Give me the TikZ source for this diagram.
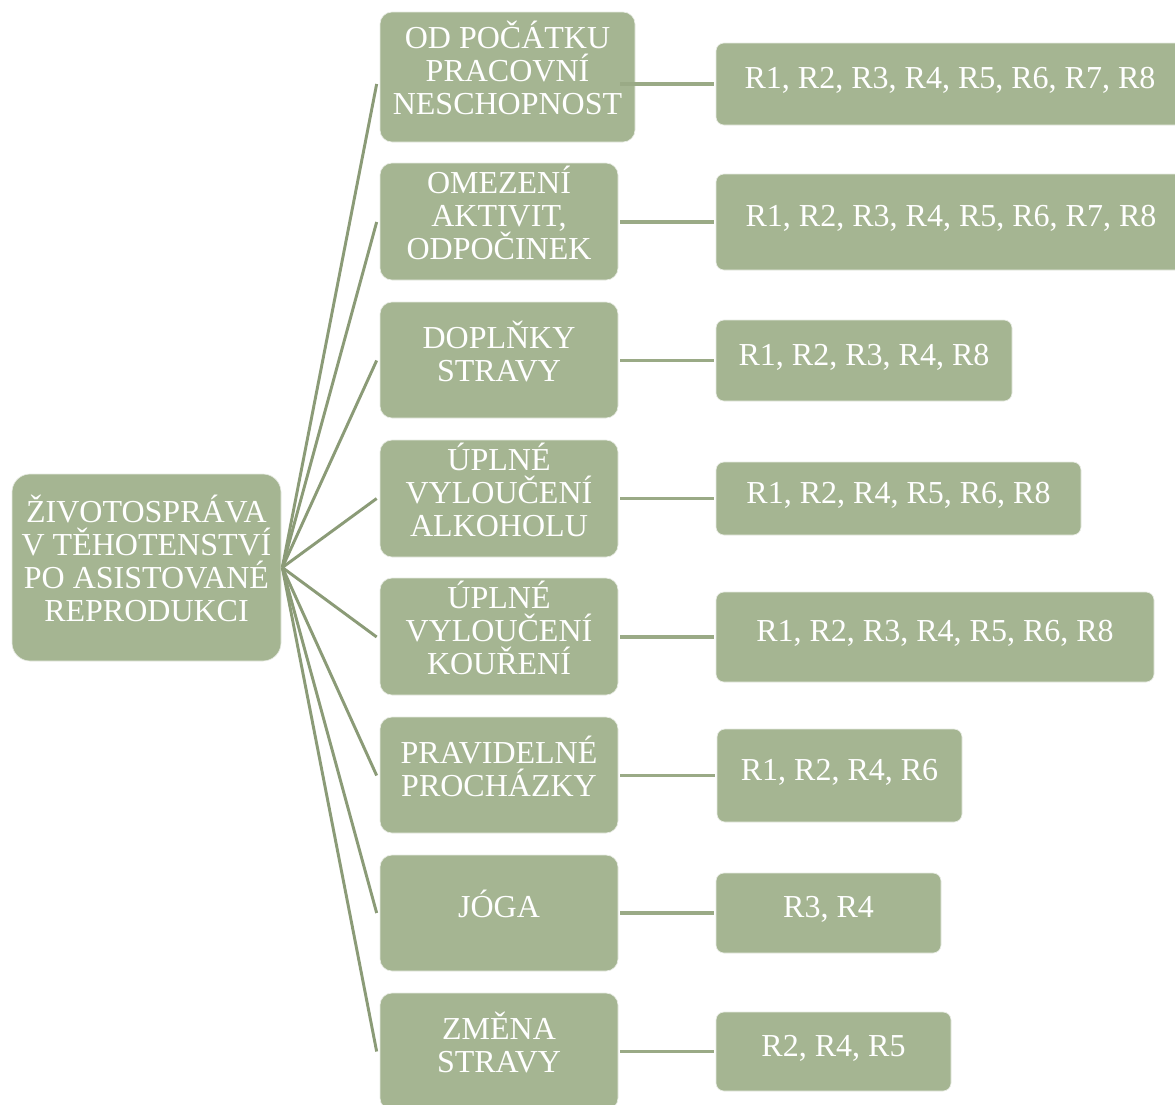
\documentclass[tikz,border=0pt]{standalone}
\usepackage{fontspec}
\setmainfont{Liberation Serif}
\usetikzlibrary{calc}
\definecolor{boxfill}{HTML}{A5B592}
\definecolor{spoke}{HTML}{8B9B77}
\definecolor{link}{HTML}{9AAA86}
\tikzset{
  box/.style n args={3}{draw=white!75!boxfill, line width=0.5pt, fill=boxfill,
    inner sep=0pt,
    minimum width=#1*0.75pt, minimum height=#2*0.75pt, rounded corners=#3*0.75pt},
  % caption text set inside a box, raised a little for optical centring
  txt/.style={text=white, align=center, inner sep=0pt,
    font=\fontsize{24}{24.75}\selectfont, yshift=#1*0.75pt},
  txt/.default=9,
  spokeline/.style={draw=spoke, line width=2.2pt},
  linkline/.style={draw=link, line width=2.4pt},
}
\begin{document}
\begin{tikzpicture}[x=0.75pt,y=-0.75pt]
\clip (0,0) rectangle (1175,1104);
\fill[white] (0,0) rectangle (1175,1104);

% root
\node[box={269}{187}{18}, label={[txt]center:{ŽIVOTOSPRÁVA\\V TĚHOTENSTVÍ\\PO ASISTOVANÉ\\REPRODUKCI}}] (root) at (146.5,567.5) {};

% second level
\node[box={255}{130}{12}, label={[txt]center:{OD POČÁTKU\\PRACOVNÍ\\NESCHOPNOST}}] (m1) at (507.5,77) {};
\node[box={238}{117}{12}, label={[txt]center:{OMEZENÍ\\AKTIVIT,\\ODPOČINEK}}] (m2) at (499,221.5) {};
\node[box={238}{116}{12}, label={[txt]center:{DOPLŇKY\\STRAVY}}] (m3) at (499,360) {};
\node[box={238}{117}{12}, label={[txt]center:{ÚPLNÉ\\VYLOUČENÍ\\ALKOHOLU}}] (m4) at (499,498.5) {};
\node[box={238}{117}{12}, label={[txt]center:{ÚPLNÉ\\VYLOUČENÍ\\KOUŘENÍ}}] (m5) at (499,636.5) {};
\node[box={238}{116}{12}, label={[txt]center:{PRAVIDELNÉ\\PROCHÁZKY}}] (m6) at (499,775) {};
\node[box={238}{116}{12}, label={[txt]center:{JÓGA}}] (m7) at (499,913) {};
\node[box={238}{117}{12}, label={[txt]center:{ZMĚNA\\STRAVY}}] (m8) at (499,1051.5) {};

% third level
\node[box={468}{82}{8}, label={[txt=3.5]center:{R1, R2, R3, R4, R5, R6, R7, R8}}] (r1) at (950,84) {};
\node[box={470}{96}{8}, label={[txt=3.5]center:{R1, R2, R3, R4, R5, R6, R7, R8}}] (r2) at (951,222) {};
\node[box={296}{81}{8}, label={[txt=3.5]center:{R1, R2, R3, R4, R8}}] (r3) at (864,360.5) {};
\node[box={365}{73}{8}, label={[txt=3.5]center:{R1, R2, R4, R5, R6, R8}}] (r4) at (898.5,498.5) {};
\node[box={438}{90}{8}, label={[txt=3.5]center:{R1, R2, R3, R4, R5, R6, R8}}] (r5) at (935,637) {};
\node[box={245}{93}{8}, label={[txt=3.5]center:{R1, R2, R4, R6}}] (r6) at (839.5,775.5) {};
\node[box={225}{80}{8}, label={[txt=3.5]center:{R3, R4}}] (r7) at (828.5,913) {};
\node[box={235}{79}{8}, label={[txt=3.5]center:{R2, R4, R5}}] (r8) at (833.5,1051.5) {};

% spokes from the root to each second-level box, and links onward
\coordinate (hub) at ($(root.east)+(1,0)$);
\foreach \i in {1,...,8}{
  \coordinate (in\i) at ($(m2.west |- r\i.west)+(-3,0)$);
  \coordinate (out\i) at ($(m2.east |- r\i.west)+(2,0)$);
  \draw[spokeline] (hub) -- (in\i);
  \draw[linkline] (out\i) -- ($(r\i.west)+(-2,0)$);
}
\end{tikzpicture}
\end{document}
